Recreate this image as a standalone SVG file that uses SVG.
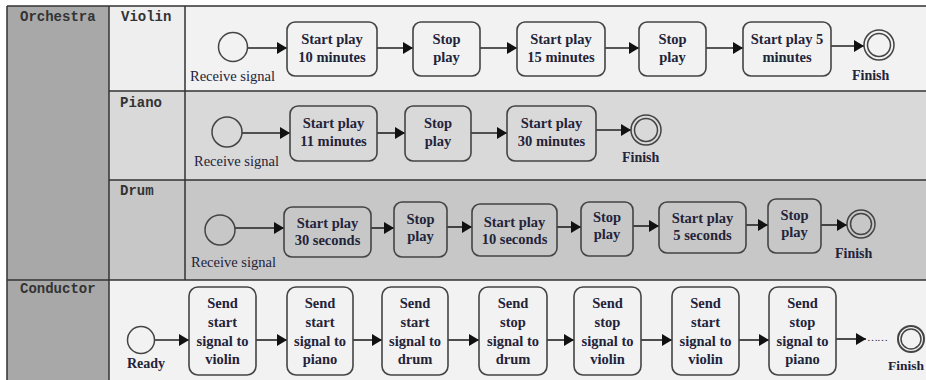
<svg xmlns="http://www.w3.org/2000/svg" width="926" height="380" viewBox="0 0 926 380">
<style>
.frame{stroke:#333;stroke-width:1.5;fill:none}
.box{stroke:#444;stroke-width:1.6;fill:none}
.ev{stroke:#444;stroke-width:1.5;fill:none}
.conn line{stroke:#222;stroke-width:1.6;marker-end:url(#ah)}
.lbl{font-family:"Liberation Mono",monospace;font-weight:bold;font-size:14px;fill:#333}
.t{font-family:"Liberation Serif",serif;font-weight:bold;font-size:14.5px;fill:#23233a;text-anchor:middle}
.rs{font-family:"Liberation Serif",serif;font-size:14.5px;fill:#23233a}
.fin{font-family:"Liberation Serif",serif;font-weight:bold;font-size:14px;fill:#23233a}
</style>
<defs>
<marker id="ah" markerUnits="userSpaceOnUse" markerWidth="11" markerHeight="14" refX="10" refY="7" orient="auto">
<path d="M0,1 L10,7 L0,13 z" fill="#111"/>
</marker>
</defs>
<rect width="926" height="380" fill="#ffffff"/>
<g id="lanes">
<rect x="7" y="6" width="102" height="274" fill="#a8a8a8"/>
<rect x="109" y="6" width="76" height="85" fill="#eeeeee"/>
<rect x="185" y="6" width="741" height="85" fill="#f2f2f2"/>
<rect x="109" y="91" width="817" height="89" fill="#d9d9d9"/>
<rect x="109" y="180" width="817" height="100" fill="#c7c7c7"/>
<rect x="7" y="280" width="102" height="100" fill="#a8a8a8"/>
<rect x="109" y="280" width="817" height="100" fill="#f2f2f2"/>
<path class="frame" d="M7,6 H926 M7,6 V380 M109,6 V380 M185,6 V280 M109,91 H926 M109,180 H926 M7,280 H926"/>
<text class="lbl" x="20" y="21">Orchestra</text>
<text class="lbl" x="121" y="21">Violin</text>
<text class="lbl" x="120" y="107">Piano</text>
<text class="lbl" x="120" y="195">Drum</text>
<text class="lbl" x="20" y="293">Conductor</text>
</g>
<g id="connectors" class="conn">
<line x1="248" y1="48" x2="287" y2="48"/>
<line x1="377" y1="48" x2="413" y2="48"/>
<line x1="480" y1="48" x2="517" y2="48"/>
<line x1="605" y1="48" x2="639" y2="48"/>
<line x1="706" y1="48" x2="743" y2="48"/>
<line x1="831" y1="46" x2="864" y2="46"/>
<line x1="242" y1="133" x2="290" y2="133"/>
<line x1="377" y1="133" x2="405" y2="133"/>
<line x1="471" y1="133" x2="507" y2="133"/>
<line x1="596" y1="130" x2="631" y2="130"/>
<line x1="235" y1="228" x2="284" y2="228"/>
<line x1="371" y1="228" x2="394" y2="228"/>
<line x1="447" y1="227" x2="472" y2="227"/>
<line x1="557" y1="227" x2="581" y2="227"/>
<line x1="633" y1="226" x2="659" y2="226"/>
<line x1="746" y1="225" x2="768" y2="225"/>
<line x1="821" y1="225" x2="847" y2="225"/>
<line x1="154" y1="340" x2="189" y2="340"/>
<line x1="256" y1="340" x2="287" y2="340"/>
<line x1="353" y1="340" x2="382" y2="340"/>
<line x1="448" y1="340" x2="479" y2="340"/>
<line x1="547" y1="340" x2="574" y2="340"/>
<line x1="641" y1="340" x2="672" y2="340"/>
<line x1="739" y1="340" x2="769" y2="340"/>
<line x1="836" y1="339" x2="866" y2="339"/>
</g>
<g id="v_start"><circle class="ev" cx="233" cy="47" r="14.5"/><text class="rs" x="190" y="81">Receive signal</text></g>
<g id="v1"><rect class="box" x="287" y="22" width="90" height="54" rx="8"/><text class="t" x="332" y="44">Start play</text><text class="t" x="332" y="62">10 minutes</text></g>
<g id="v2"><rect class="box" x="413" y="22" width="67" height="54" rx="8"/><text class="t" x="446.5" y="44">Stop</text><text class="t" x="446.5" y="62">play</text></g>
<g id="v3"><rect class="box" x="517" y="22" width="88" height="54" rx="8"/><text class="t" x="561" y="44">Start play</text><text class="t" x="561" y="62">15 minutes</text></g>
<g id="v4"><rect class="box" x="639" y="22" width="67" height="54" rx="8"/><text class="t" x="672.5" y="44">Stop</text><text class="t" x="672.5" y="62">play</text></g>
<g id="v5"><rect class="box" x="743" y="22" width="88" height="54" rx="8"/><text class="t" x="787" y="44">Start play 5</text><text class="t" x="787" y="62">minutes</text></g>
<g id="v_finish"><circle class="ev" cx="879" cy="45" r="15"/><circle class="ev" cx="879" cy="45" r="11.5"/><text class="fin" x="852" y="80">Finish</text></g>
<g id="p_start"><circle class="ev" cx="227" cy="132" r="15"/><text class="rs" x="194" y="166">Receive signal</text></g>
<g id="p1"><rect class="box" x="290" y="106" width="87" height="55" rx="8"/><text class="t" x="333.5" y="128">Start play</text><text class="t" x="333.5" y="146">11 minutes</text></g>
<g id="p2"><rect class="box" x="405" y="106" width="66" height="55" rx="8"/><text class="t" x="438" y="128">Stop</text><text class="t" x="438" y="146">play</text></g>
<g id="p3"><rect class="box" x="507" y="106" width="89" height="55" rx="8"/><text class="t" x="551.5" y="128">Start play</text><text class="t" x="551.5" y="146">30 minutes</text></g>
<g id="p_finish"><circle class="ev" cx="646" cy="130" r="15"/><circle class="ev" cx="646" cy="130" r="11.5"/><text class="fin" x="622" y="162">Finish</text></g>
<g id="d_start"><circle class="ev" cx="220" cy="230" r="15"/><text class="rs" x="191" y="267">Receive signal</text></g>
<g id="d1"><rect class="box" x="284" y="207" width="87" height="50" rx="8"/><text class="t" x="327.5" y="228">Start play</text><text class="t" x="327.5" y="245">30 seconds</text></g>
<g id="d2"><rect class="box" x="394" y="202" width="53" height="55" rx="8"/><text class="t" x="420.5" y="224">Stop</text><text class="t" x="420.5" y="241">play</text></g>
<g id="d3"><rect class="box" x="472" y="204" width="85" height="52" rx="8"/><text class="t" x="514.5" y="227">Start play</text><text class="t" x="514.5" y="244">10 seconds</text></g>
<g id="d4"><rect class="box" x="581" y="202" width="52" height="54" rx="8"/><text class="t" x="607" y="222">Stop</text><text class="t" x="607" y="239">play</text></g>
<g id="d5"><rect class="box" x="659" y="202" width="87" height="51" rx="8"/><text class="t" x="702.5" y="223">Start play</text><text class="t" x="702.5" y="240">5 seconds</text></g>
<g id="d6"><rect class="box" x="768" y="199" width="53" height="54" rx="8"/><text class="t" x="794.5" y="220">Stop</text><text class="t" x="794.5" y="237">play</text></g>
<g id="d_finish"><circle class="ev" cx="861" cy="224" r="14"/><circle class="ev" cx="861" cy="224" r="10.5"/><text class="fin" x="835" y="258">Finish</text></g>
<g id="c_start"><circle class="ev" cx="141" cy="340" r="13.5"/><text class="fin" x="127" y="368">Ready</text></g>
<g id="c1"><rect class="box" x="189" y="287" width="67" height="88" rx="9"/><text class="t" x="222.5" y="308">Send</text><text class="t" x="222.5" y="327">start</text><text class="t" x="222.5" y="346">signal to</text><text class="t" x="222.5" y="364">violin</text></g>
<g id="c2"><rect class="box" x="287" y="287" width="66" height="88" rx="9"/><text class="t" x="320" y="308">Send</text><text class="t" x="320" y="327">start</text><text class="t" x="320" y="346">signal to</text><text class="t" x="320" y="364">piano</text></g>
<g id="c3"><rect class="box" x="382" y="287" width="66" height="88" rx="9"/><text class="t" x="415" y="308">Send</text><text class="t" x="415" y="327">start</text><text class="t" x="415" y="346">signal to</text><text class="t" x="415" y="364">drum</text></g>
<g id="c4"><rect class="box" x="479" y="287" width="68" height="88" rx="9"/><text class="t" x="513" y="308">Send</text><text class="t" x="513" y="327">stop</text><text class="t" x="513" y="346">signal to</text><text class="t" x="513" y="364">drum</text></g>
<g id="c5"><rect class="box" x="574" y="287" width="67" height="88" rx="9"/><text class="t" x="607.5" y="308">Send</text><text class="t" x="607.5" y="327">stop</text><text class="t" x="607.5" y="346">signal to</text><text class="t" x="607.5" y="364">violin</text></g>
<g id="c6"><rect class="box" x="672" y="287" width="67" height="88" rx="9"/><text class="t" x="705.5" y="308">Send</text><text class="t" x="705.5" y="327">start</text><text class="t" x="705.5" y="346">signal to</text><text class="t" x="705.5" y="364">violin</text></g>
<g id="c7"><rect class="box" x="769" y="287" width="67" height="88" rx="9"/><text class="t" x="802.5" y="308">Send</text><text class="t" x="802.5" y="327">stop</text><text class="t" x="802.5" y="346">signal to</text><text class="t" x="802.5" y="364">piano</text></g>
<g id="c_more"><text class="rs" x="867" y="341" style="font-size:11px;letter-spacing:-1px">……</text></g>
<g id="c_finish"><circle class="ev" cx="911" cy="339" r="13" style="stroke-width:2"/><circle class="ev" cx="911" cy="339" r="10"/><text class="fin" x="888" y="370" style="font-size:13.5px">Finish</text></g>
</svg>
